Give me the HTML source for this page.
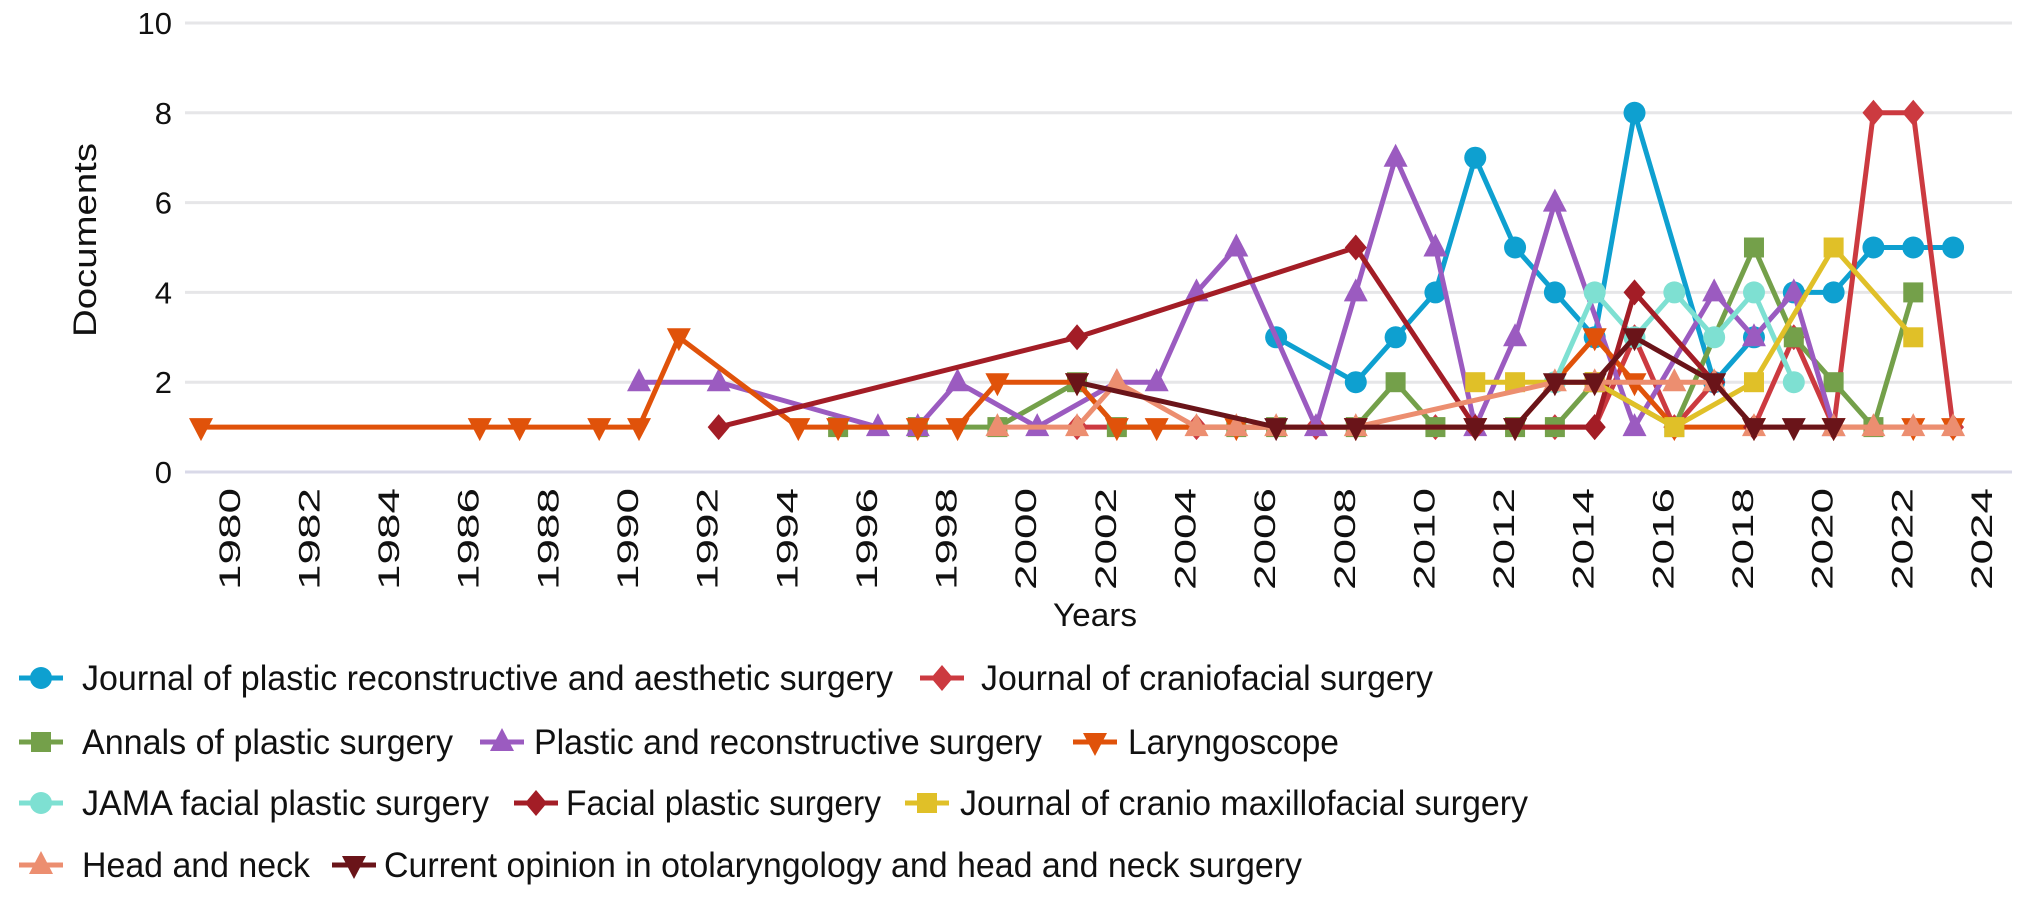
<!DOCTYPE html>
<html><head><meta charset="utf-8"><style>
html,body{margin:0;padding:0;background:#fff;}
svg{display:block;font-family:"Liberation Sans",Arial,sans-serif;}
</style></head><body>
<svg id="chart" width="2032" height="897" viewBox="0 0 2032 897" xmlns="http://www.w3.org/2000/svg">
<g id="grid"></g>
<g id="yaxis"></g>
<g id="xaxis"></g>
<text x="0" y="0" transform="translate(96,240) rotate(-90)" text-anchor="middle" font-size="32" textLength="194" lengthAdjust="spacingAndGlyphs" fill="#111">Documents</text>
<text x="1053" y="626" font-size="32" textLength="84" lengthAdjust="spacingAndGlyphs" fill="#111">Years</text>
<g id="series"></g>
<g id="legend"></g>
</svg>
<script>
const yTicks = [0, 2, 4, 6, 8, 10];
const xTickYears = [1980,1982,1984,1986,1988,1990,1992,1994,1996,1998,2000,2002,2004,2006,2008,2010,2012,2014,2016,2018,2020,2022,2024];

const seriesNames = [
  "Journal of plastic reconstructive and aesthetic surgery",
  "Journal of craniofacial surgery",
  "Annals of plastic surgery",
  "Plastic and reconstructive surgery",
  "Laryngoscope",
  "JAMA facial plastic surgery",
  "Facial plastic surgery",
  "Journal of cranio maxillofacial surgery",
  "Head and neck",
  "Current opinion in otolaryngology and head and neck surgery"
];

const jprasYears = [2006,2008,2009,2010,2011,2012,2013,2014,2015,2017,2018,2019,2020,2021,2022,2023];
const jprasValues = [3,2,3,4,7,5,4,3,8,2,3,4,4,5,5,5];
const jcsYears = [2001,2004,2007,2010,2013,2014,2015,2016,2017,2018,2019,2020,2021,2022,2023];
const jcsValues = [1,1,1,1,1,1,3,1,2,1,3,1,8,8,1];
const annalsYears = [1995,1997,1999,2001,2002,2005,2006,2008,2009,2010,2012,2013,2014,2016,2018,2019,2020,2021,2022];
const annalsValues = [1,1,1,2,1,1,1,1,2,1,1,1,2,1,5,3,2,1,4];
const prsYears = [1990,1992,1996,1997,1998,2000,2002,2003,2004,2005,2007,2008,2009,2010,2011,2012,2013,2015,2017,2018,2019,2020];
const prsValues = [2,2,1,1,2,1,2,2,4,5,1,4,7,5,1,3,6,1,4,3,4,1];
const laryngoYears = [1979,1986,1987,1989,1990,1991,1994,1995,1997,1998,1999,2001,2002,2003,2005,2008,2011,2012,2014,2015,2016,2018,2020,2022,2023];
const laryngoValues = [1,1,1,1,1,3,1,1,1,1,2,2,1,1,1,1,1,1,3,2,1,1,1,1,1];
const jamaYears = [2013,2014,2015,2016,2017,2018,2019];
const jamaValues = [2,4,3,4,3,4,2];
const fpsYears = [1992,2001,2008,2011,2014,2015,2017,2018];
const fpsValues = [1,3,5,1,1,4,2,1];
const jcmsYears = [2011,2012,2014,2016,2018,2020,2022];
const jcmsValues = [2,2,2,1,2,5,3];
const hnYears = [1999,2001,2002,2004,2005,2006,2008,2013,2014,2016,2017,2018,2020,2021,2022,2023];
const hnValues = [1,1,2,1,1,1,1,2,2,2,2,1,1,1,1,1];
const coYears = [2001,2006,2008,2011,2012,2013,2014,2015,2017,2018,2019,2020];
const coValues = [2,1,1,1,1,2,2,3,2,1,1,1];

const colors = ["#0ea0d0","#cc3a40","#74a04a","#9b5bc0","#e0520a","#7ee0d2","#a31d26","#e0c028","#ec8e70","#6a1419"];
const markers = ["circle","diamond","square","tri","tridown","circle","diamond","square","tri","tridown"];
const allYears = [jprasYears,jcsYears,annalsYears,prsYears,laryngoYears,jamaYears,fpsYears,jcmsYears,hnYears,coYears];
const allValues = [jprasValues,jcsValues,annalsValues,prsValues,laryngoValues,jamaValues,fpsValues,jcmsValues,hnValues,coValues];

const NS = "http://www.w3.org/2000/svg";
function xPix(yr){ return 201 + (yr - 1979) * 39.82; }
function yPix(v){ return 472 - v * 44.9; }
function mk(tag, attrs, parent){ const e = document.createElementNS(NS, tag); for (const k in attrs) e.setAttribute(k, attrs[k]); parent.appendChild(e); return e; }

function marker(type, x, y, color, s, parent){
  let e;
  if (type === "circle") e = mk("circle", {cx:x, cy:y, r:s*0.55, fill:color}, parent);
  else if (type === "square") e = mk("rect", {x:x-s*0.5, y:y-s*0.5, width:s, height:s, fill:color}, parent);
  else if (type === "diamond") e = mk("polygon", {points:`${x},${y-s*0.65} ${x+s*0.55},${y} ${x},${y+s*0.65} ${x-s*0.55},${y}`, fill:color}, parent);
  else if (type === "tri") e = mk("polygon", {points:`${x},${y-s*0.7} ${x+s*0.6},${y+s*0.45} ${x-s*0.6},${y+s*0.45}`, fill:color}, parent);
  else e = mk("polygon", {points:`${x},${y+s*0.7} ${x+s*0.6},${y-s*0.45} ${x-s*0.6},${y-s*0.45}`, fill:color}, parent);
  return e;
}

const grid = document.getElementById('grid');
const yaxis = document.getElementById('yaxis');
yTicks.forEach(v => {
  const l = mk("line", {x1:185, x2:2012, y1:yPix(v), y2:yPix(v), stroke: v===0 ? "#d9d9e8" : "#e6e6e8", "stroke-width":3}, grid);
  
  
  const t = mk("text", {x:172, y:yPix(v)+11, "text-anchor":"end", "font-size":31, fill:"#111"}, yaxis);
  t.textContent = v;
  
  
});
const xaxis = document.getElementById('xaxis');
xTickYears.forEach(yr => {
  const x = xPix(yr) - 2;
  const t = mk("text", {x:0, y:0, transform:`translate(${x+1},488) rotate(-90)`, "text-anchor":"end", "font-size":30, textLength:102, lengthAdjust:"spacingAndGlyphs", fill:"#111"}, xaxis);
  t.textContent = yr;
  
  
});

const sg = document.getElementById('series');
seriesNames.forEach((name, i) => {
  const g = mk("g", {}, sg);
  
  
  const pts = allYears[i].map((yr, j) => `${xPix(yr)},${yPix(allValues[i][j])}`).join(" ");
  const pl = mk("polyline", {points:pts, fill:"none", stroke:colors[i], "stroke-width":5, "stroke-linejoin":"round"}, g);
  
  
  allYears[i].forEach((yr, j) => {
    const m = marker(markers[i], xPix(yr), yPix(allValues[i][j]), colors[i], 20, g);
    
    
  });
});

const legendPos = [
  [19,678,82,811],[920,678,981,452],
  [19,742,82,371],[480,742,534,508],[1073,742,1128,211],
  [19,803,82,407],[514,803,566,315],[905,803,960,568],
  [19,865,82,228],[332,865,384,918]
];
const lg = document.getElementById('legend');
seriesNames.forEach((name, i) => {
  const [mx, y, tx, tl] = legendPos[i];
  const g = mk("g", {}, lg);
  
  
  mk("line", {x1:mx, x2:mx+44, y1:y, y2:y, stroke:colors[i], "stroke-width":5}, g);
  marker(markers[i], mx+22, y, colors[i], 20, g);
  const t = mk("text", {x:tx, y:y+12, "font-size":35, textLength:tl, lengthAdjust:"spacingAndGlyphs", fill:"#111"}, g);
  t.textContent = name;
});
</script>
</body></html>
